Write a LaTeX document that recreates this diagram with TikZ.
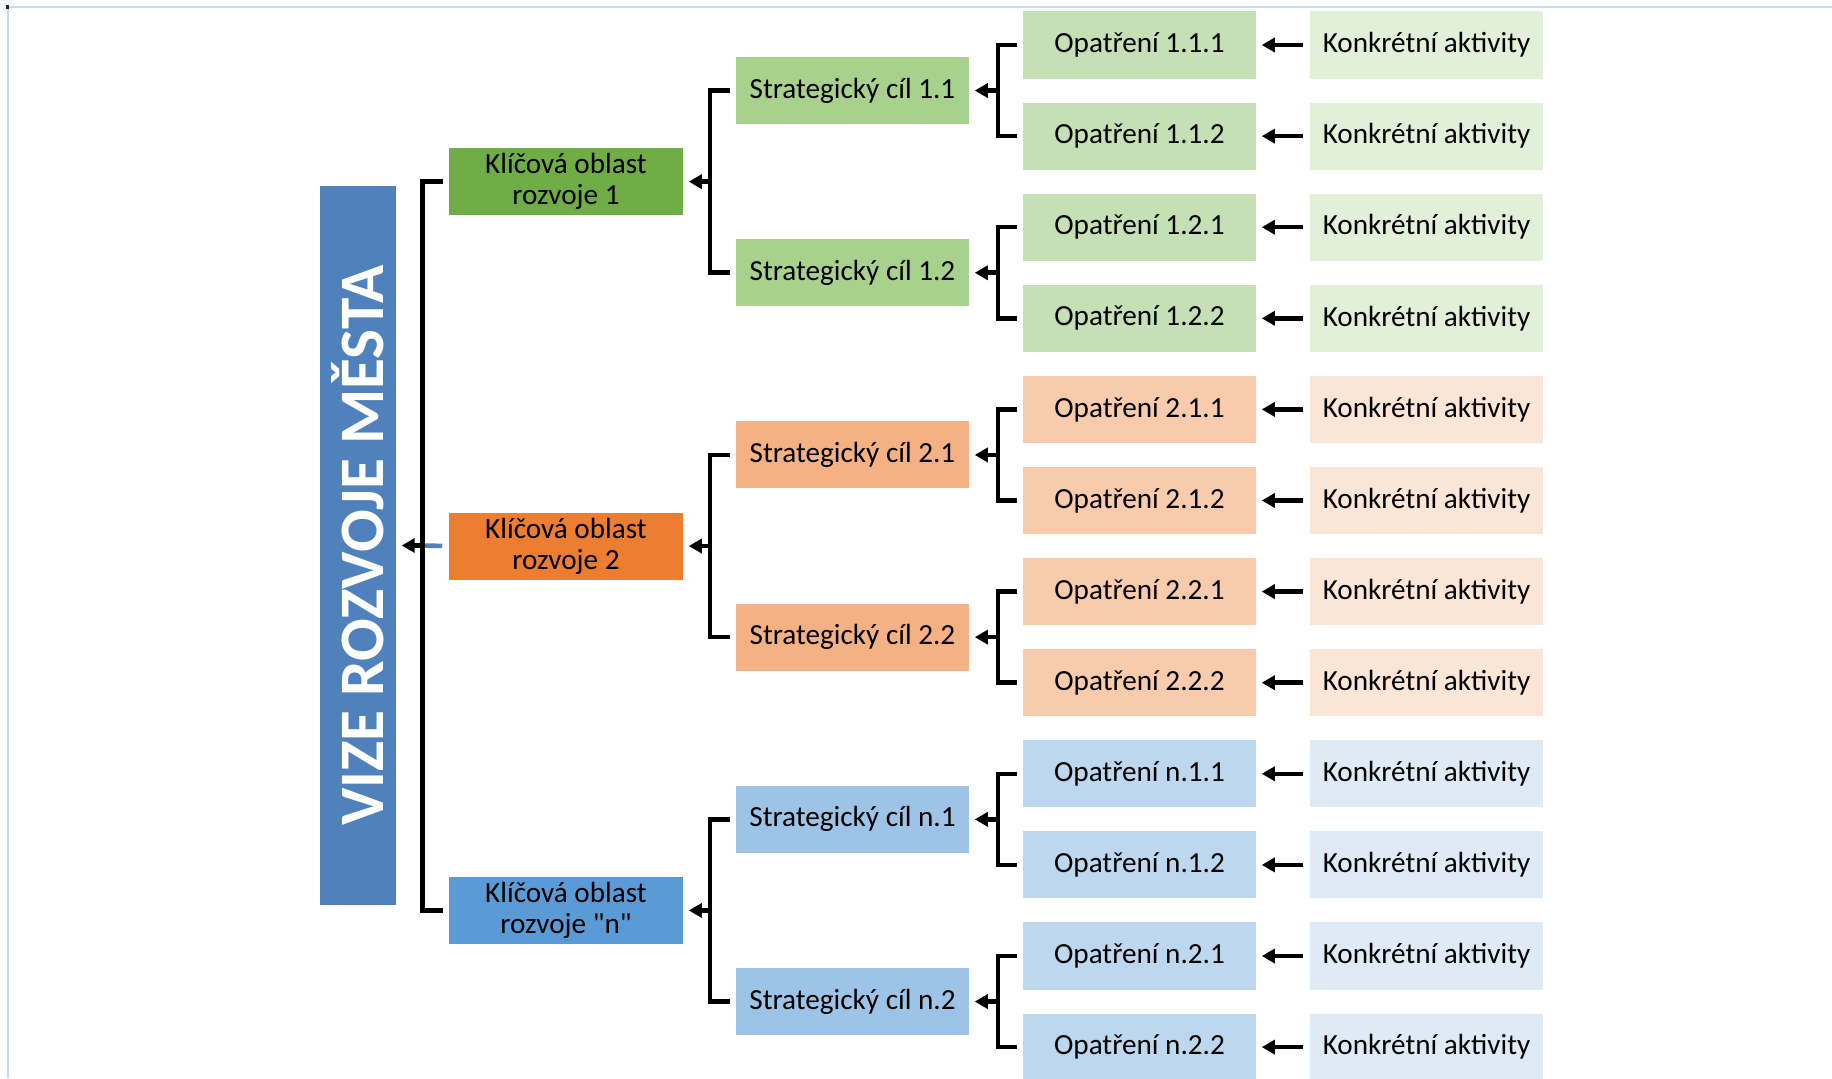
\documentclass[tikz,border=0pt]{standalone}
\usepackage{fontspec}
\setmainfont{Carlito}
\usepackage{graphicx}
\usetikzlibrary{arrows.meta}
\definecolor{vizemodra}{HTML}{4F81BD}
\definecolor{ramecmodra}{HTML}{C9DAEE}
\definecolor{kozel}{HTML}{70AD47}
\definecolor{kooranz}{HTML}{ED7D31}
\definecolor{komod}{HTML}{5B9BD5}
\definecolor{sczel}{HTML}{A9D18E}
\definecolor{scoranz}{HTML}{F4B183}
\definecolor{scmod}{HTML}{9DC3E6}
\definecolor{opzel}{HTML}{C5E0B4}
\definecolor{oporanz}{HTML}{F8CBAD}
\definecolor{opmod}{HTML}{BDD7EE}
\definecolor{akzel}{HTML}{E2F0D9}
\definecolor{akoranz}{HTML}{FBE5D6}
\definecolor{akmod}{HTML}{DEEBF7}
\tikzset{box/.style={minimum width=2.33cm, minimum height=0.67cm, inner sep=0pt, align=center, font=\fontsize{8.3}{8.9}\selectfont},
	kobox/.style={box, minimum width=2.34cm},
	scbox/.style={box},
	opbox/.style={box},
	akbox/.style={box},
	vizebox/.style={fill=vizemodra, minimum width=0.76cm, minimum height=7.19cm, inner sep=0pt, text=white, font=\fontsize{18}{18}\selectfont\bfseries},
	konektor/.style={line width=1.3pt, shorten <=0.05cm, shorten >=0.05cm},
	sipka/.style={line width=1.3pt, -{Triangle[length=0.13cm, width=0.14cm]}, shorten >=0.05cm},
	ramec/.style={draw=ramecmodra, line width=0.6pt}}

\begin{document}
\begin{tikzpicture}[x=0.01cm, y=-0.01cm]
	\useasboundingbox (0,0) rectangle (1832,1078);
	% okraj snimku
	\draw[ramec] (8,1078) -- (8,7) -- (1832,7);
	\fill[black!85] (6,5) rectangle (9,9);

	\node[vizebox] (vize) at (358,545.5) {\rotatebox{90}{VIZE ROZVOJE MĚSTA}};

	% klicove oblasti
	\node[kobox, fill=kozel] (ko1) at (566,181.65) {Klíčová oblast\\rozvoje 1};
	\node[kobox, fill=kooranz] (ko2) at (566,546.05) {Klíčová oblast\\rozvoje 2};
	\node[kobox, fill=komod] (kon) at (566,910.45) {Klíčová oblast\\rozvoje \textquotedbl n\textquotedbl};

	% strategicke cile
	\node[scbox, fill=sczel] (sc11) at (852.5,90.55) {Strategický cíl 1.1};
	\node[scbox, fill=sczel] (sc12) at (852.5,272.75) {Strategický cíl 1.2};
	\node[scbox, fill=scoranz] (sc21) at (852.5,454.95) {Strategický cíl 2.1};
	\node[scbox, fill=scoranz] (sc22) at (852.5,637.15) {Strategický cíl 2.2};
	\node[scbox, fill=scmod] (scn1) at (852.5,819.35) {Strategický cíl n.1};
	\node[scbox, fill=scmod] (scn2) at (852.5,1001.55) {Strategický cíl n.2};

	% opatreni
	\node[opbox, fill=opzel] (o111) at (1139.5,45) {Opatření 1.1.1};
	\node[opbox, fill=opzel] (o112) at (1139.5,136.1) {Opatření 1.1.2};
	\node[opbox, fill=opzel] (o121) at (1139.5,227.2) {Opatření 1.2.1};
	\node[opbox, fill=opzel] (o122) at (1139.5,318.3) {Opatření 1.2.2};
	\node[opbox, fill=oporanz] (o211) at (1139.5,409.4) {Opatření 2.1.1};
	\node[opbox, fill=oporanz] (o212) at (1139.5,500.5) {Opatření 2.1.2};
	\node[opbox, fill=oporanz] (o221) at (1139.5,591.6) {Opatření 2.2.1};
	\node[opbox, fill=oporanz] (o222) at (1139.5,682.7) {Opatření 2.2.2};
	\node[opbox, fill=opmod] (on11) at (1139.5,773.8) {Opatření n.1.1};
	\node[opbox, fill=opmod] (on12) at (1139.5,864.9) {Opatření n.1.2};
	\node[opbox, fill=opmod] (on21) at (1139.5,956) {Opatření n.2.1};
	\node[opbox, fill=opmod] (on22) at (1139.5,1047.1) {Opatření n.2.2};

	% konkretni aktivity
	\node[akbox, fill=akzel] (a111) at (1426.5,45) {Konkrétní aktivity};
	\node[akbox, fill=akzel] (a112) at (1426.5,136.1) {Konkrétní aktivity};
	\node[akbox, fill=akzel] (a121) at (1426.5,227.2) {Konkrétní aktivity};
	\node[akbox, fill=akzel] (a122) at (1426.5,318.3) {Konkrétní aktivity};
	\node[akbox, fill=akoranz] (a211) at (1426.5,409.4) {Konkrétní aktivity};
	\node[akbox, fill=akoranz] (a212) at (1426.5,500.5) {Konkrétní aktivity};
	\node[akbox, fill=akoranz] (a221) at (1426.5,591.6) {Konkrétní aktivity};
	\node[akbox, fill=akoranz] (a222) at (1426.5,682.7) {Konkrétní aktivity};
	\node[akbox, fill=akmod] (an11) at (1426.5,773.8) {Konkrétní aktivity};
	\node[akbox, fill=akmod] (an12) at (1426.5,864.9) {Konkrétní aktivity};
	\node[akbox, fill=akmod] (an21) at (1426.5,956) {Konkrétní aktivity};
	\node[akbox, fill=akmod] (an22) at (1426.5,1047.1) {Konkrétní aktivity};

	% body na svislych carach
	\coordinate (v) at ([xshift=0.26cm]vize.east);
	\coordinate (k1) at ([xshift=0.26cm]ko1.east);
	\coordinate (k2) at ([xshift=0.26cm]ko2.east);
	\coordinate (kn) at ([xshift=0.26cm]kon.east);
	\coordinate (s11) at ([xshift=0.28cm]sc11.east);
	\coordinate (s12) at ([xshift=0.28cm]sc12.east);
	\coordinate (s21) at ([xshift=0.28cm]sc21.east);
	\coordinate (s22) at ([xshift=0.28cm]sc22.east);
	\coordinate (sn1) at ([xshift=0.28cm]scn1.east);
	\coordinate (sn2) at ([xshift=0.28cm]scn2.east);

	% aktivity -> opatreni
	\draw[sipka, shorten <=0.06cm] (a111.west) -- (o111.east);
	\draw[sipka, shorten <=0.06cm] (a112.west) -- (o112.east);
	\draw[sipka, shorten <=0.06cm] (a121.west) -- (o121.east);
	\draw[sipka, shorten <=0.06cm] (a122.west) -- (o122.east);
	\draw[sipka, shorten <=0.06cm] (a211.west) -- (o211.east);
	\draw[sipka, shorten <=0.06cm] (a212.west) -- (o212.east);
	\draw[sipka, shorten <=0.06cm] (a221.west) -- (o221.east);
	\draw[sipka, shorten <=0.06cm] (a222.west) -- (o222.east);
	\draw[sipka, shorten <=0.06cm] (an11.west) -- (on11.east);
	\draw[sipka, shorten <=0.06cm] (an12.west) -- (on12.east);
	\draw[sipka, shorten <=0.06cm] (an21.west) -- (on21.east);
	\draw[sipka, shorten <=0.06cm] (an22.west) -- (on22.east);

	% opatreni -> strategicke cile
	\draw[konektor] (o111.west) -| (s11) |- (o112.west);
	\draw[konektor] (o121.west) -| (s12) |- (o122.west);
	\draw[konektor] (o211.west) -| (s21) |- (o212.west);
	\draw[konektor] (o221.west) -| (s22) |- (o222.west);
	\draw[konektor] (on11.west) -| (sn1) |- (on12.west);
	\draw[konektor] (on21.west) -| (sn2) |- (on22.west);
	\draw[sipka] (s11) -- (sc11.east);
	\draw[sipka] (s12) -- (sc12.east);
	\draw[sipka] (s21) -- (sc21.east);
	\draw[sipka] (s22) -- (sc22.east);
	\draw[sipka] (sn1) -- (scn1.east);
	\draw[sipka] (sn2) -- (scn2.east);

	% strategicke cile -> klicove oblasti
	\draw[konektor] (sc11.west) -| (k1) |- (sc12.west);
	\draw[konektor] (sc21.west) -| (k2) |- (sc22.west);
	\draw[konektor] (scn1.west) -| (kn) |- (scn2.west);
	\draw[sipka] (k1) -- (ko1.east);
	\draw[sipka] (k2) -- (ko2.east);
	\draw[sipka] (kn) -- (kon.east);

	% klicove oblasti -> vize
	\draw[line width=1.3pt, draw=vizemodra, shorten <=0.06cm] (ko2.west) -- (v);
	\draw[konektor] (ko1.west) -| (v) |- (kon.west);
	\draw[sipka] (v) -- (vize.east);
\end{tikzpicture}
\end{document}
